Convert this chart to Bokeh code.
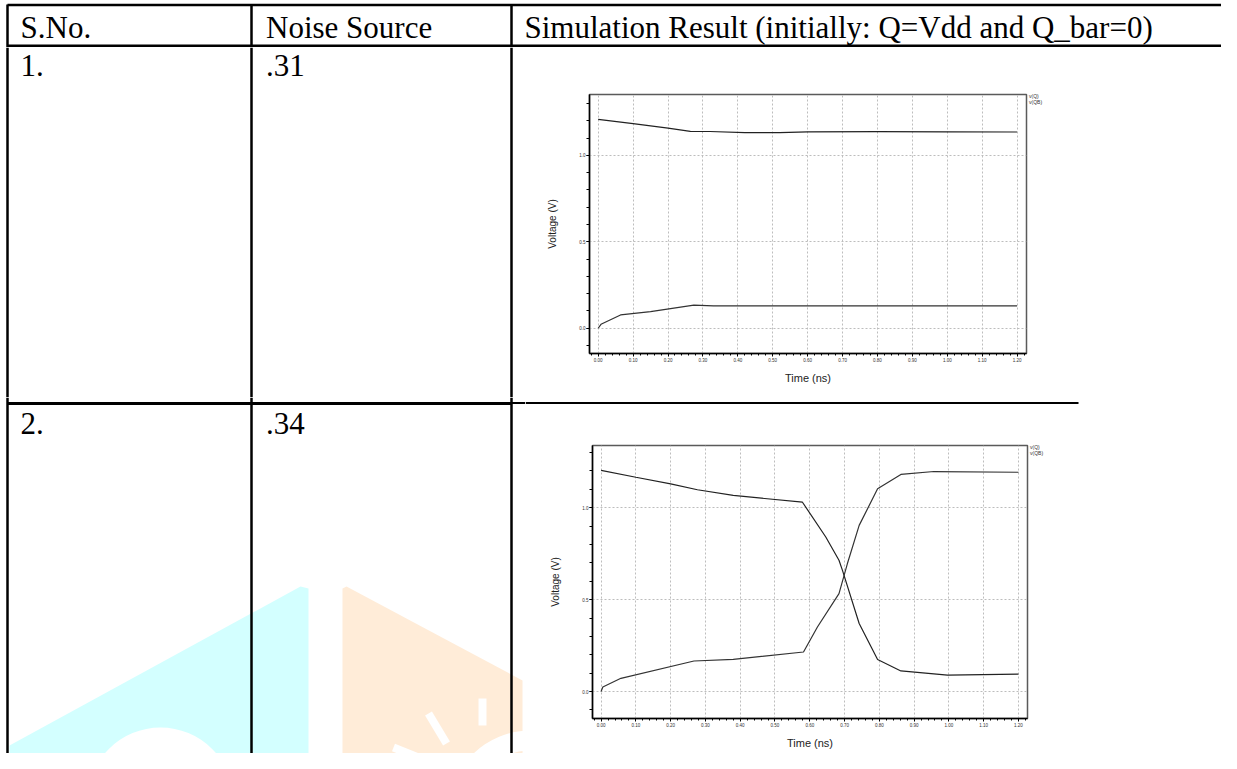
from bokeh.plotting import figure
from bokeh.layouts import column, row
from bokeh.models import (Range1d, Legend, LegendItem, SingleIntervalTicker,
                          NumeralTickFormatter)
from bokeh.core.properties import value
from bokeh.embed import file_html
from bokeh.resources import INLINE

# ---------------- data ----------------
header_labels = ["S.No.", "Noise Source", "Simulation Result (initially: Q=Vdd and Q_bar=0)"]
row_numbers = ["1.", "2."]
noise_sources = [".31", ".34"]
series_names = ["v(Q)", "v(QB)"]

# chart 1 : noise source .31 (no flip)
t1_q = [0.00, 0.10, 0.20, 0.264, 0.32, 0.42, 0.52, 0.60, 0.80, 1.00, 1.20]
v1_q = [1.208, 1.183, 1.158, 1.139, 1.138, 1.132, 1.131, 1.136, 1.137, 1.136, 1.135]
t1_qb = [0.00, 0.008, 0.064, 0.15, 0.274, 0.33, 0.60, 0.90, 1.20]
v1_qb = [0.000, 0.023, 0.077, 0.096, 0.134, 0.129, 0.130, 0.129, 0.129]

# chart 2 : noise source .34 (flip)
t2_q = [0.00, 0.10, 0.20, 0.277, 0.38, 0.579, 0.646, 0.684, 0.694, 0.742, 0.795, 0.862, 0.996, 1.20]
v2_q = [1.203, 1.166, 1.130, 1.098, 1.067, 1.030, 0.841, 0.714, 0.659, 0.370, 0.174, 0.112, 0.089, 0.095]
t2_qb = [0.00, 0.005, 0.057, 0.267, 0.38, 0.582, 0.622, 0.684, 0.708, 0.742, 0.795, 0.862, 0.957, 1.20]
v2_qb = [0.000, 0.025, 0.072, 0.166, 0.175, 0.215, 0.351, 0.533, 0.695, 0.904, 1.103, 1.181, 1.197, 1.193]

# ---------------- layout constants (page pixel coordinates) ----------------
PX0, PX1 = 0, 1221
PY0, PY1 = 0, 753
COLS = [7, 251, 511]        # vertical table rules
SPLIT_X = 525               # text cells | chart cells
HEAD_Y1 = 47
ROW1_Y1 = 397
SEP_Y1 = 409
TEXT_SHIFT = 10             # glyph baseline correction
SERIF = value("Liberation Serif")
CELL_FONT = "31px"


def cell_fig(x0, x1, y0, y1):
    p = figure(width=x1 - x0, height=y1 - y0, x_range=Range1d(x0, x1), y_range=Range1d(y1, y0),
               toolbar_location=None, output_backend="svg",
               x_axis_location=None, y_axis_location=None, min_border=0,
               outline_line_color=None, background_fill_color="white",
               border_fill_color="white", frame_align=False)
    p.grid.visible = False
    return p


def vrules(p, y0, y1, xs=COLS):
    p.segment(x0=xs, y0=[y0] * len(xs), x1=xs, y1=[y1] * len(xs),
              line_color="black", line_width=2.5)


def cell_text(p, xs, base, labels):
    p.text(x=xs, y=[base - TEXT_SHIFT] * len(xs), text=labels, text_font=SERIF,
           text_font_size=CELL_FONT, text_baseline="alphabetic", text_color="black")


# header row
head = cell_fig(PX0, PX1, PY0, HEAD_Y1)
head.segment(x0=[COLS[0], COLS[0]], y0=[4.5, 45.2], x1=[PX1, PX1], y1=[4.5, 45.2],
             line_color="black", line_width=2.5)
vrules(head, 4, HEAD_Y1)
cell_text(head, [20, 265.5, 524], 37, header_labels)

# left cells of row 1
left1 = cell_fig(PX0, SPLIT_X, HEAD_Y1, ROW1_Y1)
vrules(left1, HEAD_Y1, ROW1_Y1)
cell_text(left1, [20, 265.5], 75, [row_numbers[0], noise_sources[0]])

# left cells of row 2 (row rule + faint watermark)
left2 = cell_fig(PX0, SPLIT_X, ROW1_Y1, PY1)
left2.patch(x=[9, 300, 308, 308, 9], y=[745, 586, 588, 769, 769], fill_color="#d3ffff", line_color=None)
left2.annulus(x=[160], y=[800], inner_radius=40, outer_radius=73, fill_color="white", line_color=None)
left2.patch(x=[342, 346, 522, 522, 342], y=[588, 586, 680, 769, 769], fill_color="#ffecd8", line_color=None)
left2.segment(x0=[482, 428, 393], y0=[698, 713, 747], x1=[482, 446, 433], y1=[725, 743, 763],
              line_color="white", line_width=8)
left2.annulus(x=[530], y=[812], inner_radius=62, outer_radius=82, fill_color="white", line_color=None)
left2.segment(x0=[COLS[0]], y0=[403], x1=[511], y1=[403], line_color="black", line_width=3)
left2.segment(x0=[511], y0=[402.5], x1=[SPLIT_X], y1=[402.5], line_color="black", line_width=2)
vrules(left2, ROW1_Y1, PY1)
cell_text(left2, [20, 265.5], 433, [row_numbers[1], noise_sources[1]])

# row rule across the chart column
sep = cell_fig(SPLIT_X, PX1, ROW1_Y1, SEP_Y1)
sep.segment(x0=[SPLIT_X], y0=[402.5], x1=[1078], y1=[402.5], line_color="black", line_width=2)


def chart_fig(cx0, cx1, cy0, cy1, fl, fr, ft, fb, xr, yr, tq, vq, tqb, vqb):
    p = figure(width=cx1 - cx0, height=cy1 - cy0, x_range=Range1d(*xr), y_range=Range1d(*yr),
               toolbar_location=None, output_backend="svg",
               min_border_left=fl - cx0, min_border_right=cx1 - fr,
               min_border_top=ft - cy0, min_border_bottom=cy1 - fb,
               x_axis_label="Time (ns)", y_axis_label="Voltage (V)",
               background_fill_color="white", border_fill_color="white",
               frame_align=False)
    p.outline_line_color = "#5a5a5a"
    p.outline_line_width = 1.5
    r1 = p.line(tq, vq, line_color="#222222", line_width=1.2)
    r2 = p.line(tqb, vqb, line_color="#333333", line_width=1.2)

    xa = p.xaxis[0]
    xa.ticker = SingleIntervalTicker(interval=0.1, num_minor_ticks=5)
    xa.formatter = NumeralTickFormatter(format="0.00")
    ya = p.yaxis[0]
    ya.ticker = SingleIntervalTicker(interval=0.5, num_minor_ticks=5)
    ya.formatter = NumeralTickFormatter(format="0.0")
    for ax in (xa, ya):
        ax.axis_line_color = "black"
        ax.axis_line_width = 1.5
        ax.major_tick_in = 0
        ax.minor_tick_in = 0
        ax.major_tick_out = 3
        ax.major_tick_line_color = "black"
        ax.minor_tick_line_color = "black"
        ax.major_label_text_font = "Liberation Sans"
        ax.major_label_text_font_size = "4.5px"
        ax.major_label_text_color = "#333333"
        ax.major_label_standoff = 1
        ax.axis_label_text_font = "Liberation Sans"
        ax.axis_label_text_font_style = "normal"
        ax.axis_label_text_color = "#222222"
    xa.minor_tick_out = 2
    ya.minor_tick_out = 3
    xa.axis_label_text_font_size = "11px"
    ya.axis_label_text_font_size = "10px"
    xa.axis_label_standoff = 7
    ya.axis_label_standoff = 18

    p.grid.grid_line_color = "#bdbdbd"
    p.grid.grid_line_dash = "2 2"
    p.grid.grid_line_width = 1
    return p, r1, r2


def legend_fig(lx0, lx1, cy0, cy1, top, r1, r2):
    p = cell_fig(lx0, lx1, cy0, cy1)
    s1 = p.line(x=[], y=[], line_color=r1.glyph.line_color, line_width=1.2)
    s2 = p.line(x=[], y=[], line_color=r2.glyph.line_color, line_width=1.2)
    h = cy1 - cy0
    leg = Legend(items=[LegendItem(label=series_names[0], renderers=[s1]),
                        LegendItem(label=series_names[1], renderers=[s2])],
                 location=(0, h - (top - cy0) - 12), orientation="vertical",
                 padding=0, margin=0, spacing=0,
                 label_text_font_size="5px", label_text_font="Liberation Sans",
                 label_text_color="#333333",
                 glyph_width=1, glyph_height=6, label_height=6, label_standoff=0,
                 border_line_color=None, background_fill_alpha=0)
    p.add_layout(leg)
    return p


chart1, a1, b1 = chart_fig(SPLIT_X, 1028, HEAD_Y1, ROW1_Y1, 589, 1026, 94, 353,
                           (-0.0249, 1.227), (-0.146, 1.352), t1_q, v1_q, t1_qb, v1_qb)
leg1 = legend_fig(1028, PX1, HEAD_Y1, ROW1_Y1, 93, a1, b1)
chart2, a2, b2 = chart_fig(SPLIT_X, 1029, SEP_Y1, PY1, 592, 1027, 445, 718,
                           (-0.0247, 1.226), (-0.1467, 1.3386), t2_q, v2_q, t2_qb, v2_qb)
leg2 = legend_fig(1029, PX1, SEP_Y1, PY1, 444, a2, b2)

right_col = column(row(chart1, leg1, spacing=0), sep, row(chart2, leg2, spacing=0), spacing=0)
left_col = column(left1, left2, spacing=0)
page = column(head, row(left_col, right_col, spacing=0), spacing=0)

open("out.html", "w").write(file_html(page, INLINE))
